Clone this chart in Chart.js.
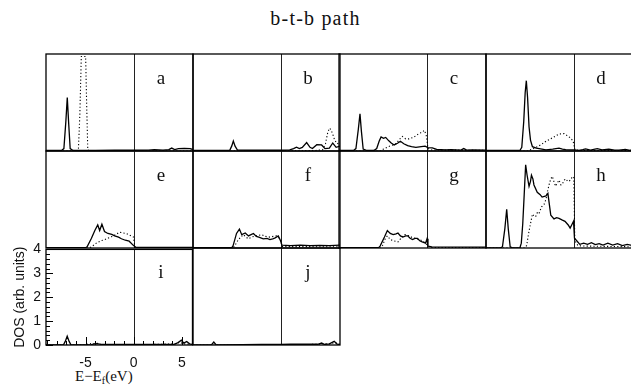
<!DOCTYPE html>
<html><head><meta charset="utf-8">
<script src="https://cdn.jsdelivr.net/npm/chart.js@4/dist/chart.umd.min.js"></script>
<style>
html,body{margin:0;padding:0;background:#fff;}
#wrap{position:relative;width:631px;height:389px;overflow:hidden;background:#fff;}
#wrap canvas{position:absolute;}
.txt{position:absolute;font-family:"Liberation Serif","Times New Roman",serif;color:#111;white-space:nowrap;line-height:1;}
.letter{font-size:19px;transform:translate(-50%,-50%);}
</style></head><body>
<div id="wrap">
<div class="txt" id="title" style="left:0;width:631px;top:8px;text-align:center;font-size:20px;letter-spacing:1.2px;">b-t-b path</div>
<div class="txt" id="xtitle" style="left:75px;top:369px;font-size:15px;">E−E<sub style="font-size:10px;vertical-align:-3px;">f</sub>(eV)</div>
</div>
<script>
// ---- axis settings / labels ----
const energyMin = -9.1, energyMax = 6.1;
const dosMin = 0, dosMax = 4;
const xTickValues = [-5, 0, 5];
const yTickValues = [0, 1, 2, 3, 4];
const yAxisTitle = 'DOS (arb. units)';
const panelLetters = ['a','b','c','d','e','f','g','h','i','j'];

// ---- data: [E - Ef (eV), DOS] ----
const aSolid = [[-9.1,0.02],[-7.5,0.02],[-7.25,0.1],[-7.05,1.2],[-6.9,2.2],[-6.75,1.1],[-6.6,0.1],[-6.3,0.02],[-4,0.02],[-2,0.03],[0,0.03],[1.5,0.04],[2.1,0.06],[3.0,0.04],[3.6,0.06],[3.9,0.12],[4.2,0.06],[4.6,0.1],[5.2,0.11],[5.8,0.1],[6.1,0.06]];
const aDotted = [[-9.1,0],[-5.9,0],[-5.75,0.05],[-5.6,1.5],[-5.45,3.9],[-5.0,3.9],[-4.9,2.0],[-4.78,0.05],[-4.6,0],[6.1,0]];

const bSolid = [[-9.1,0.02],[-6,0.02],[-5.3,0.03],[-5.1,0.2],[-4.93,0.41],[-4.75,0.2],[-4.5,0.04],[-3,0.03],[-1,0.04],[0,0.03],[0.9,0.05],[1.3,0.1],[1.6,0.16],[1.9,0.1],[2.2,0.15],[2.65,0.35],[3.0,0.15],[3.25,0.1],[3.7,0.26],[4.2,0.25],[4.55,0.1],[5.0,0.12],[5.35,0.33],[5.7,0.15],[6.1,0.2]];
const bDotted = [[-9.1,0],[0,0],[3.5,0.02],[4.3,0.05],[4.6,0.3],[4.85,0.8],[5.05,0.94],[5.3,0.75],[5.55,0.45],[5.8,0.3],[6.1,0.35]];

const cSolid = [[-9.1,0.02],[-7.6,0.02],[-7.35,0.1],[-7.1,0.9],[-6.93,1.53],[-6.78,0.8],[-6.6,0.08],[-6.2,0.02],[-5.5,0.02],[-5.2,0.1],[-4.95,0.4],[-4.75,0.58],[-4.5,0.52],[-4.27,0.56],[-3.95,0.42],[-3.7,0.33],[-3.4,0.25],[-3.05,0.32],[-2.75,0.4],[-2.4,0.3],[-2.0,0.22],[-1.6,0.18],[-1.15,0.15],[-0.6,0.18],[-0.2,0.2],[0.1,0.14],[0.55,0.13],[1.0,0.07],[1.9,0.05],[2.5,0.06],[3.0,0.05],[3.5,0.04],[3.8,0.1],[4.1,0.04],[4.7,0.05],[6.1,0.04]];
const cDotted = [[-9.1,0],[-4.8,0],[-4.5,0.08],[-4.0,0.18],[-3.5,0.25],[-3.2,0.3],[-2.85,0.48],[-2.55,0.6],[-2.2,0.5],[-1.86,0.5],[-1.5,0.55],[-1.17,0.62],[-0.9,0.7],[-0.65,0.75],[-0.25,0.85],[-0.05,0.6],[0.1,0.1],[0.5,0.04],[6.1,0.03]];

const dSolid = [[-9.1,0.02],[-5.6,0.02],[-5.4,0.15],[-5.2,1.2],[-5.05,2.4],[-4.93,2.9],[-4.8,2.2],[-4.65,1.0],[-4.5,0.45],[-4.3,0.18],[-3.9,0.12],[-3.6,0.1],[-2.9,0.05],[-2.2,0.08],[-1.55,0.12],[-1.2,0.08],[-0.86,0.06],[0,0.05],[0.5,0.03],[0.9,0.06],[1.2,0.09],[1.7,0.04],[2.4,0.1],[2.9,0.05],[3.6,0.08],[4.2,0.04],[4.65,0.04],[5.3,0.07],[5.8,0.03],[6.1,0.04]];
const dDotted = [[-9.1,0],[-4.8,0],[-4.5,0.05],[-4.1,0.12],[-3.45,0.25],[-2.9,0.4],[-2.2,0.55],[-1.55,0.7],[-1.03,0.72],[-0.5,0.58],[-0.1,0.42],[0.1,0.05],[0.6,0.02],[6.1,0.02]];

const eSolid = [[-9.1,0.01],[-5.0,0.01],[-4.85,0.05],[-4.4,0.4],[-4.05,0.72],[-3.75,0.95],[-3.55,0.72],[-3.32,0.98],[-3.05,0.68],[-2.7,0.6],[-2.3,0.56],[-2.0,0.5],[-1.6,0.45],[-1.3,0.38],[-0.9,0.32],[-0.5,0.28],[-0.1,0.12],[0.2,0.02],[6.1,0.02]];
const eDotted = [[-9.1,0],[-4.6,0],[-4.3,0.08],[-3.9,0.2],[-3.4,0.3],[-3.0,0.35],[-2.6,0.42],[-2.35,0.46],[-1.9,0.55],[-1.5,0.65],[-1.1,0.62],[-0.8,0.6],[-0.3,0.5],[-0.05,0.45],[0.1,0.02],[6.1,0]];

const fSolid = [[-9.1,0.01],[-5.1,0.01],[-4.95,0.1],[-4.6,0.6],[-4.3,0.78],[-4.06,0.55],[-3.7,0.62],[-3.36,0.5],[-3.1,0.55],[-2.85,0.6],[-2.55,0.48],[-2.3,0.45],[-1.83,0.38],[-1.45,0.4],[-1.14,0.35],[-0.85,0.38],[-0.6,0.42],[-0.28,0.5],[-0.05,0.3],[0.1,0.12],[1,0.1],[2,0.12],[3,0.1],[4,0.11],[5,0.1],[6.1,0.12]];
const fDotted = [[-9.1,0],[-5.0,0],[-4.8,0.08],[-4.4,0.35],[-3.9,0.55],[-3.6,0.45],[-3.4,0.38],[-3.0,0.45],[-2.7,0.5],[-2.3,0.52],[-2.0,0.55],[-1.6,0.48],[-1.15,0.45],[-0.8,0.48],[-0.45,0.5],[-0.05,0.35],[0.1,0.06],[6.1,0.05]];

const gSolid = [[-9.1,0.01],[-5.0,0.01],[-4.85,0.08],[-4.4,0.45],[-4.1,0.72],[-3.8,0.6],[-3.5,0.55],[-3.2,0.58],[-3.0,0.62],[-2.75,0.5],[-2.5,0.45],[-2.2,0.5],[-2.0,0.5],[-1.75,0.4],[-1.5,0.35],[-1.25,0.4],[-1.0,0.4],[-0.75,0.3],[-0.5,0.25],[-0.15,0.2],[0,0.38],[0.1,0.08],[0.5,0.05],[6.1,0.04]];
const gDotted = [[-9.1,0],[-4.8,0],[-4.6,0.1],[-4.3,0.4],[-4.1,0.5],[-3.8,0.35],[-3.5,0.3],[-3.0,0.25],[-2.6,0.45],[-2.3,0.55],[-2.0,0.52],[-1.8,0.5],[-1.5,0.42],[-1.2,0.4],[-0.8,0.35],[-0.5,0.3],[-0.15,0.2],[0.05,0.1],[0.3,0.02],[6.1,0.02]];

const hSolid = [[-9.1,0],[-7.6,0],[-7.4,0.05],[-7.15,0.8],[-6.96,1.6],[-6.8,0.8],[-6.6,0.05],[-6.3,0],[-5.6,0],[-5.45,0.2],[-5.3,1.0],[-5.15,2.2],[-5.0,3.43],[-4.85,3.0],[-4.65,2.54],[-4.5,2.75],[-4.4,3.0],[-4.25,2.85],[-4.14,2.6],[-3.8,2.3],[-3.5,2.2],[-3.3,2.1],[-2.9,2.15],[-2.7,2.25],[-2.55,1.8],[-2.4,1.35],[-2.07,1.2],[-1.8,1.25],[-1.55,1.22],[-1.2,1.15],[-0.93,1.1],[-0.6,0.95],[-0.4,0.82],[-0.24,0.95],[-0.05,1.1],[0.05,0.4],[0.28,0.3],[0.6,0.15],[1.0,0.2],[1.4,0.15],[1.8,0.22],[2.2,0.14],[2.6,0.18],[3.0,0.12],[3.5,0.2],[4.0,0.12],[4.5,0.18],[5.0,0.1],[5.5,0.15],[6.1,0.1]];
const hDotted = [[-9.1,0],[-5.1,0],[-4.9,0.1],[-4.65,0.7],[-4.45,1.1],[-4.3,1.4],[-4.1,1.3],[-3.96,1.3],[-3.75,1.5],[-3.6,1.45],[-3.35,1.7],[-3.1,1.8],[-2.9,2.0],[-2.76,2.3],[-2.55,2.65],[-2.4,2.85],[-2.24,2.95],[-2.05,2.7],[-1.9,2.55],[-1.7,2.7],[-1.55,2.8],[-1.35,2.6],[-1.2,2.65],[-1.0,2.8],[-0.86,2.85],[-0.65,2.75],[-0.5,2.75],[-0.3,2.85],[-0.15,2.95],[-0.02,2.9],[0.08,0.3],[0.4,0.1],[1,0.08],[6.1,0.05]];

const iSolid = [[-9.1,0],[-7.3,0],[-7.1,0.15],[-6.9,0.37],[-6.7,0.15],[-6.5,0],[-4.5,0],[-4.2,0.04],[-3.8,0.06],[-3.4,0.03],[0,0.02],[4.2,0.03],[4.6,0.1],[4.95,0.2],[5.2,0.08],[5.5,0.15],[5.8,0.05],[6.1,0.02]];
const iDotted = [[-9.1,0],[-5.0,0],[-4.6,0.06],[-4.2,0.05],[-3.8,0.07],[-3.4,0.02],[0,0],[4.4,0.05],[4.8,0.12],[5.1,0.05],[6.1,0.02]];

const jSolid = [[-9.1,0],[-7.2,0],[-6.95,0.12],[-6.7,0],[-4,0.01],[-2,0.02],[0,0.02],[1,0.03],[2,0.03],[3,0.04],[3.8,0.03],[4.2,0.08],[4.5,0.02],[5.0,0.05],[5.5,0.15],[5.8,0.04],[6.1,0.02]];
const jDotted = [[-9.1,0],[0,0],[4.0,0.03],[4.4,0.06],[5.0,0.04],[5.6,0.1],[6.1,0.02]];

const panelSeries = [
  [aSolid,aDotted],[bSolid,bDotted],[cSolid,cDotted],[dSolid,dDotted],
  [eSolid,eDotted],[fSolid,fDotted],[gSolid,gDotted],[hSolid,hDotted],
  [iSolid,iDotted],[jSolid,jDotted]
];

// ---- layout ----
const colLefts = [46, 193, 339, 486];
const rowTops = [54, 151, 248];
const panelW = 147, panelH = 97, pad = 3, axisTopPad = 12;
const axisPanel = 8; // panel "i" carries the axes
const tickFont = {family: '"Liberation Sans", Arial, sans-serif', size: 14};

const framePlugin = {
  id: 'frame',
  beforeDatasetsDraw(chart) {
    const {ctx, chartArea: a, scales: {x}} = chart;
    const px = Math.round(x.getPixelForValue(0)) + 0.5;
    ctx.save();
    ctx.strokeStyle = '#222'; ctx.lineWidth = 1;
    ctx.beginPath(); ctx.moveTo(px, a.top); ctx.lineTo(px, a.bottom); ctx.stroke();
    ctx.restore();
  },
  afterDatasetsDraw(chart, args, opts) {
    const {ctx, chartArea: a, scales: {x, y}} = chart;
    ctx.save();
    ctx.strokeStyle = '#000'; ctx.lineWidth = 1.3;
    ctx.strokeRect(a.left, a.top, a.right - a.left, a.bottom - a.top);
    if (opts.innerTicks) {
      ctx.lineWidth = 1;
      ctx.beginPath();
      for (let v = dosMin; v <= dosMax + 1e-9; v += 0.2) {
        const py = Math.round(y.getPixelForValue(v)) + 0.5;
        const major = Math.abs(v - Math.round(v)) < 1e-6;
        ctx.moveTo(a.left, py); ctx.lineTo(a.left + (major ? 7 : 4), py);
      }
      for (let v = Math.ceil(energyMin); v <= energyMax; v += 1) {
        const px = Math.round(x.getPixelForValue(v)) + 0.5;
        const major = xTickValues.includes(v);
        ctx.moveTo(px, a.bottom); ctx.lineTo(px, a.bottom - (major ? 8 : 4));
      }
      ctx.stroke();
    }
    ctx.restore();
  }
};

const wrap = document.getElementById('wrap');
panelSeries.forEach(([solid, dotted], k) => {
  const col = k % 4, row = Math.floor(k / 4);
  const left = colLefts[col], top = rowTops[row];
  const withAxes = k === axisPanel;
  const cv = document.createElement('canvas');
  let cLeft, cTop, cW, cH, padding;
  if (withAxes) {
    cLeft = 0; cTop = top - axisTopPad; cW = left + panelW + pad; cH = 389 - cTop;
    padding = {top: axisTopPad, right: pad, left: 0, bottom: 0};
  } else {
    cLeft = left - pad; cTop = top - pad; cW = panelW + 2 * pad; cH = panelH + 2 * pad;
    padding = pad;
  }
  cv.width = cW; cv.height = cH;
  cv.style.left = cLeft + 'px'; cv.style.top = cTop + 'px';
  cv.style.width = cW + 'px'; cv.style.height = cH + 'px';
  wrap.appendChild(cv);

  const lbl = document.createElement('div');
  lbl.className = 'txt letter';
  lbl.textContent = panelLetters[k];
  lbl.style.left = (left + 115) + 'px';
  lbl.style.top = (top + 23) + 'px';
  wrap.appendChild(lbl);

  const xScale = {
    type: 'linear', min: energyMin, max: energyMax, display: withAxes,
    grid: {display: false, drawTicks: false}, border: {display: false},
    ticks: {font: tickFont, color: '#111', padding: 10, maxRotation: 0, autoSkip: false}
  };
  const yScale = {
    min: dosMin, max: dosMax, display: withAxes,
    grid: {display: false, drawTicks: false}, border: {display: false},
    ticks: {font: tickFont, color: '#111', padding: 5},
    title: {display: true, text: yAxisTitle, font: tickFont, color: '#111', padding: {top: 12, bottom: 0}}
  };
  if (withAxes) {
    xScale.afterBuildTicks = s => { s.ticks = xTickValues.map(v => ({value: v})); };
    xScale.afterFit = s => { s.height = 389 - (rowTops[2] + panelH); };
    yScale.afterBuildTicks = s => { s.ticks = yTickValues.map(v => ({value: v})); };
    yScale.afterFit = s => { s.width = colLefts[0]; };
  }

  new Chart(cv, {
    type: 'line',
    data: {datasets: [
      {data: dotted.map(([x, y]) => ({x, y})), borderColor: '#000', borderWidth: 1.1,
       borderDash: [1.2, 2.2], pointRadius: 0, tension: 0, fill: false},
      {data: solid.map(([x, y]) => ({x, y})), borderColor: '#000', borderWidth: 1.3,
       pointRadius: 0, tension: 0, fill: false}
    ]},
    options: {
      responsive: false, animation: false,
      layout: {padding},
      plugins: {legend: {display: false}, tooltip: {enabled: false}, frame: {innerTicks: withAxes}},
      scales: {x: xScale, y: yScale}
    },
    plugins: [framePlugin]
  });
});
</script>
</body></html>
